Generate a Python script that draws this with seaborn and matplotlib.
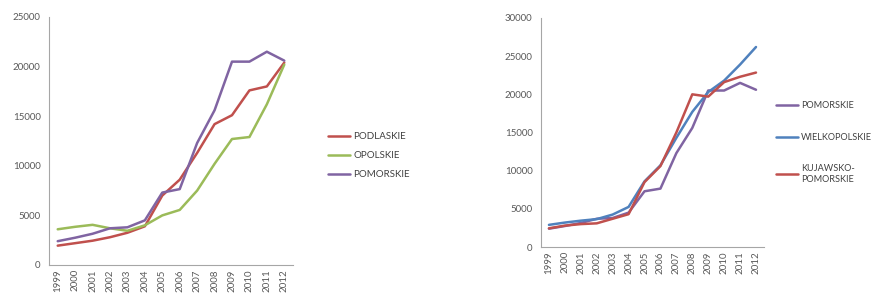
import pandas as pd
import seaborn as sns
import matplotlib.pyplot as plt
import numpy as np

years = [str(y) for y in range(1999, 2013)]

podlaskie = [1950, 2200, 2450, 2800, 3250, 3900, 7000, 8600, 11300, 14200, 15100, 17600, 18000, 20400]
opolskie = [3600, 3850, 4050, 3700, 3450, 4000, 5000, 5550, 7500, 10200, 12700, 12900, 16200, 20200]
pomorskie = [2400, 2750, 3150, 3700, 3800, 4500, 7300, 7650, 12300, 15600, 20500, 20500, 21500, 20600]
wielkopolskie = [2900, 3200, 3450, 3650, 4250, 5250, 8600, 10700, 14300, 17700, 20300, 21800, 23900, 26200]
kujawsko = [2450, 2800, 3000, 3100, 3700, 4300, 8500, 10600, 15000, 20000, 19700, 21600, 22300, 22850]

left_names = ["PODLASKIE", "OPOLSKIE", "POMORSKIE"]
left_series = [podlaskie, opolskie, pomorskie]
right_names = ["POMORSKIE", "WIELKOPOLSKIE", "KUJAWSKO-\nPOMORSKIE"]
right_series = [pomorskie, wielkopolskie, kujawsko]

colors_left = ["#C0504D", "#9BBB59", "#8064A2"]
colors_right = ["#8064A2", "#4F81BD", "#C0504D"]


def long_df(names, series):
    rows = []
    for name, vals in zip(names, series):
        for i, v in enumerate(vals):
            rows.append({"x": i, "year": years[i], "region": name, "value": v})
    return pd.DataFrame(rows)


sns.set_style("white")
plt.rcParams["font.family"] = ["Lato", "DejaVu Sans"]
text_col = "#595959"
spine_col = "#A6A6A6"

fig = plt.figure(figsize=(8.72, 2.95), dpi=100)
ax1 = fig.add_axes([0.0562, 0.1017, 0.2798, 0.8407])
ax2 = fig.add_axes([0.6204, 0.1627, 0.2557, 0.7763])


def style_axis(ax, ymax, step):
    ax.set_xlim(-0.5, 13.5)
    ax.set_ylim(0, ymax)
    ax.set_yticks(np.arange(0, ymax + 1, step))
    ax.set_xticks(range(14))
    ax.set_xticklabels(years, rotation=90)
    ax.set_xticks(np.arange(-0.5, 14, 1), minor=True)
    ax.tick_params(axis="x", which="major", length=0, labelsize=7, colors=text_col, pad=3)
    ax.tick_params(axis="x", which="minor", length=4, color=spine_col, direction="out")
    ax.tick_params(axis="y", length=4, color=spine_col, direction="out", labelsize=7, labelcolor=text_col, pad=2)
    ax.yaxis.set_major_formatter(plt.FuncFormatter(lambda v, p: f"{int(v)}"))
    for s in ["top", "right"]:
        ax.spines[s].set_visible(False)
    for s in ["left", "bottom"]:
        ax.spines[s].set_color(spine_col)
        ax.spines[s].set_linewidth(0.8)
    ax.set_xlabel("")
    ax.set_ylabel("")


d1 = long_df(left_names, left_series)
sns.lineplot(data=d1, x="x", y="value", hue="region", hue_order=left_names,
             palette=colors_left, linewidth=1.8, ax=ax1)
style_axis(ax1, 25000, 5000)
h, l = ax1.get_legend_handles_labels()
ax1.legend(h, l, loc="upper left", bbox_to_anchor=(0.366, 0.582), bbox_transform=fig.transFigure,
           frameon=False, fontsize=7, labelcolor="#404040", handlelength=2.3,
           handletextpad=0.3, labelspacing=1.05)

d2 = long_df(right_names, right_series)
sns.lineplot(data=d2, x="x", y="value", hue="region", hue_order=right_names,
             palette=colors_right, linewidth=1.8, ax=ax2)
style_axis(ax2, 30000, 5000)
h, l = ax2.get_legend_handles_labels()
ax2.legend(h, l, loc="upper left", bbox_to_anchor=(0.881, 0.684), bbox_transform=fig.transFigure,
           frameon=False, fontsize=6.6, labelcolor="#404040", handlelength=2.4,
           handletextpad=0.3, labelspacing=2.45)

fig.savefig("out.png", dpi=100)
